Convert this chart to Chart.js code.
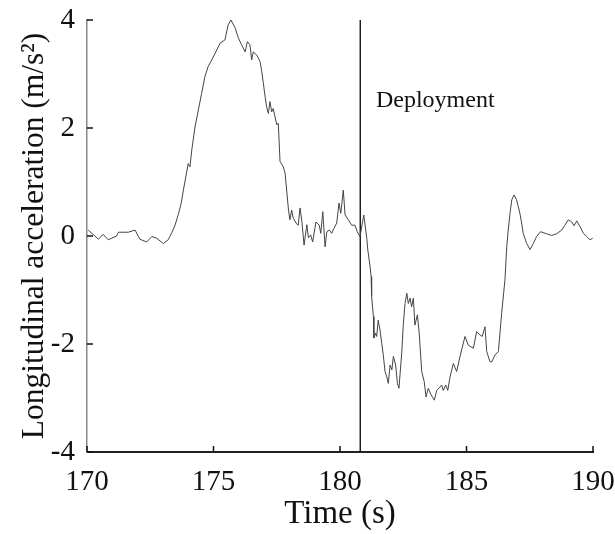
<!DOCTYPE html>
<html>
<head>
<meta charset="utf-8">
<script src="https://cdn.jsdelivr.net/npm/chart.js@4.4.1/dist/chart.umd.min.js"></script>
<style>
  html, body { margin: 0; padding: 0; background: #fff; }
  #wrap { width: 615px; height: 534px; }
</style>
</head>
<body>
<div id="wrap"><canvas id="myChart" width="615" height="534"></canvas></div>
<script>
// time (s) and longitudinal acceleration (m/s^2)
var time = [170.05,170.45,170.64,170.84,171.17,171.24,171.63,171.90,172.09,172.36,172.56,172.75,173.02,173.21,173.35,173.48,173.61,173.72,173.81,174.00,
  174.07,174.14,174.27,174.40,174.53,174.66,174.79,174.93,175.06,175.26,175.45,175.58,175.69,175.85,175.98,176.11,176.25,176.34,176.44,176.51,
  176.57,176.71,176.84,176.90,176.97,177.04,177.10,177.17,177.23,177.30,177.36,177.50,177.56,177.63,177.76,177.83,177.96,178.02,178.09,178.15,
  178.29,178.35,178.42,178.49,178.58,178.69,178.75,178.84,178.92,179.05,179.18,179.24,179.32,179.41,179.48,179.58,179.67,179.76,179.87,179.96,
  180.03,180.13,180.20,180.33,180.46,180.59,180.68,180.79,180.94,181.06,181.10,181.19,181.23,181.25,181.32,181.34,181.41,181.45,181.51,181.58,
  181.65,181.71,181.78,181.85,181.91,181.98,182.05,182.11,182.20,182.27,182.33,182.44,182.50,182.57,182.64,182.70,182.77,182.83,182.90,182.96,
  183.06,183.13,183.23,183.33,183.40,183.49,183.60,183.73,183.82,183.91,184.02,184.08,184.18,184.26,184.35,184.48,184.61,184.74,184.94,185.07,
  185.27,185.40,185.53,185.62,185.73,185.80,185.93,186.00,186.13,186.26,186.39,186.52,186.59,186.65,186.72,186.79,186.88,186.98,187.11,187.18,
  187.24,187.38,187.51,187.64,187.77,187.93,188.17,188.37,188.56,188.76,188.89,189.02,189.16,189.25,189.36,189.49,189.62,189.75,189.88,189.99];
var accel = [0.11,-0.06,0.03,-0.07,0.00,0.07,0.07,0.11,-0.06,-0.11,-0.01,-0.04,-0.14,-0.07,0.06,0.20,0.40,0.60,0.85,1.34,
  1.28,1.59,2.02,2.33,2.64,2.95,3.14,3.26,3.38,3.57,3.63,3.91,4.00,3.86,3.67,3.54,3.41,3.60,3.54,3.26,
  3.41,3.35,3.23,3.07,2.83,2.58,2.39,2.27,2.49,2.30,2.36,2.06,2.09,1.38,1.28,1.16,0.50,0.30,0.48,0.33,
  0.22,0.20,0.52,0.28,-0.17,0.21,-0.03,0.02,-0.11,0.26,0.20,0.05,0.45,-0.20,0.08,0.11,0.05,0.14,0.24,0.61,
  0.42,0.85,0.39,0.30,0.20,0.20,0.08,-0.01,0.39,-0.05,-0.26,-0.57,-0.75,-1.12,-1.49,-1.89,-1.80,-1.86,-1.56,-1.74,
  -1.99,-2.20,-2.51,-2.61,-2.73,-2.39,-2.48,-2.23,-2.39,-2.73,-2.82,-2.17,-1.65,-1.25,-1.06,-1.25,-1.15,-1.31,-1.15,-1.65,
  -1.46,-1.80,-2.51,-2.70,-2.98,-2.82,-2.94,-3.04,-2.86,-2.82,-2.76,-2.86,-2.76,-2.86,-2.61,-2.36,-2.51,-2.24,-1.86,-2.02,
  -2.08,-1.77,-1.83,-1.86,-1.68,-2.14,-2.33,-2.33,-2.20,-2.14,-1.43,-0.81,-0.20,0.11,0.42,0.67,0.76,0.67,0.42,0.24,
  0.05,-0.14,-0.25,-0.14,-0.01,0.08,0.04,0.01,0.04,0.11,0.20,0.30,0.26,0.19,0.28,0.17,0.05,-0.01,-0.07,-0.04];

var deployTime = 180.8;
var deployText = "Deployment";
var deployLabelAt = [181.42, 2.39];

var xTicks = [170, 175, 180, 185, 190];
var yTicks = [-4, -2, 0, 2, 4];

var serif = "'Liberation Serif', 'DejaVu Serif', serif";

var points = [];
for (var i = 0; i < time.length; i++) {
  points.push({x: time[i], y: accel[i]});
}

// no label overhang padding, the layout padding decides
function noOverhang(s) {
  s.paddingTop = 0; s.paddingBottom = 0; s.paddingLeft = 0; s.paddingRight = 0;
}

// ticks pointing into the plot, plus the annotation text
var extras = {
  id: 'extras',
  afterDraw: function(chart) {
    var c = chart.ctx, xs = chart.scales.x, ys = chart.scales.y;
    c.save();
    c.strokeStyle = '#111';
    c.lineWidth = 1.5;
    c.beginPath();
    xTicks.forEach(function(v) {
      var px = xs.getPixelForValue(v);
      c.moveTo(px, ys.bottom);
      c.lineTo(px, ys.bottom - 6);
    });
    yTicks.forEach(function(v) {
      var py = ys.getPixelForValue(v);
      c.moveTo(xs.left, py);
      c.lineTo(xs.left + 6, py);
    });
    c.stroke();
    c.fillStyle = '#111';
    c.font = "24px " + serif;
    c.textBaseline = 'alphabetic';
    c.fillText(deployText, xs.getPixelForValue(deployLabelAt[0]), ys.getPixelForValue(deployLabelAt[1]));
    c.restore();
  }
};

var ctx = document.getElementById("myChart");
var myChart = new Chart(ctx, {
  type: 'line',
  data: {
    datasets: [
      {
        data: points,
        borderColor: '#444',
        borderWidth: 1,
        pointRadius: 0,
        fill: false,
        tension: 0
      },
      {
        data: [{x: deployTime, y: -4}, {x: deployTime, y: 4}],
        borderColor: '#000',
        borderWidth: 1.3,
        pointRadius: 0,
        fill: false
      }
    ]
  },
  options: {
    responsive: false,
    animation: false,
    layout: { padding: { top: 20, right: 22, left: 0, bottom: 0 } },
    plugins: { legend: { display: false }, tooltip: { enabled: false } },
    scales: {
      x: {
        type: 'linear',
        min: 170, max: 190,
        afterBuildTicks: function(s) { s.ticks = xTicks.map(function(v) { return {value: v}; }); },
        afterFit: function(s) { s.height = 82; noOverhang(s); },
        grid: { display: false, drawTicks: false },
        border: { display: true, color: '#222', width: 2 },
        ticks: { color: '#111', padding: 13, maxRotation: 0, font: { family: serif, size: 29 } },
        title: { display: true, text: 'Time (s)', color: '#111', padding: { top: 0, bottom: 0 }, font: { family: serif, size: 33 } }
      },
      y: {
        min: -4, max: 4,
        afterBuildTicks: function(s) { s.ticks = yTicks.map(function(v) { return {value: v}; }); },
        afterFit: function(s) { s.width = 87; noOverhang(s); },
        grid: { display: false, drawTicks: false },
        border: { display: true, color: '#888', width: 1.5 },
        ticks: { color: '#111', padding: 12, font: { family: serif, size: 29 } },
        title: { display: true, text: 'Longitudinal acceleration (m/s\u00B2)', color: '#111', padding: { top: 16, bottom: 0 }, font: { family: serif, size: 31.5 } }
      }
    }
  },
  plugins: [extras]
});
</script>
</body>
</html>
